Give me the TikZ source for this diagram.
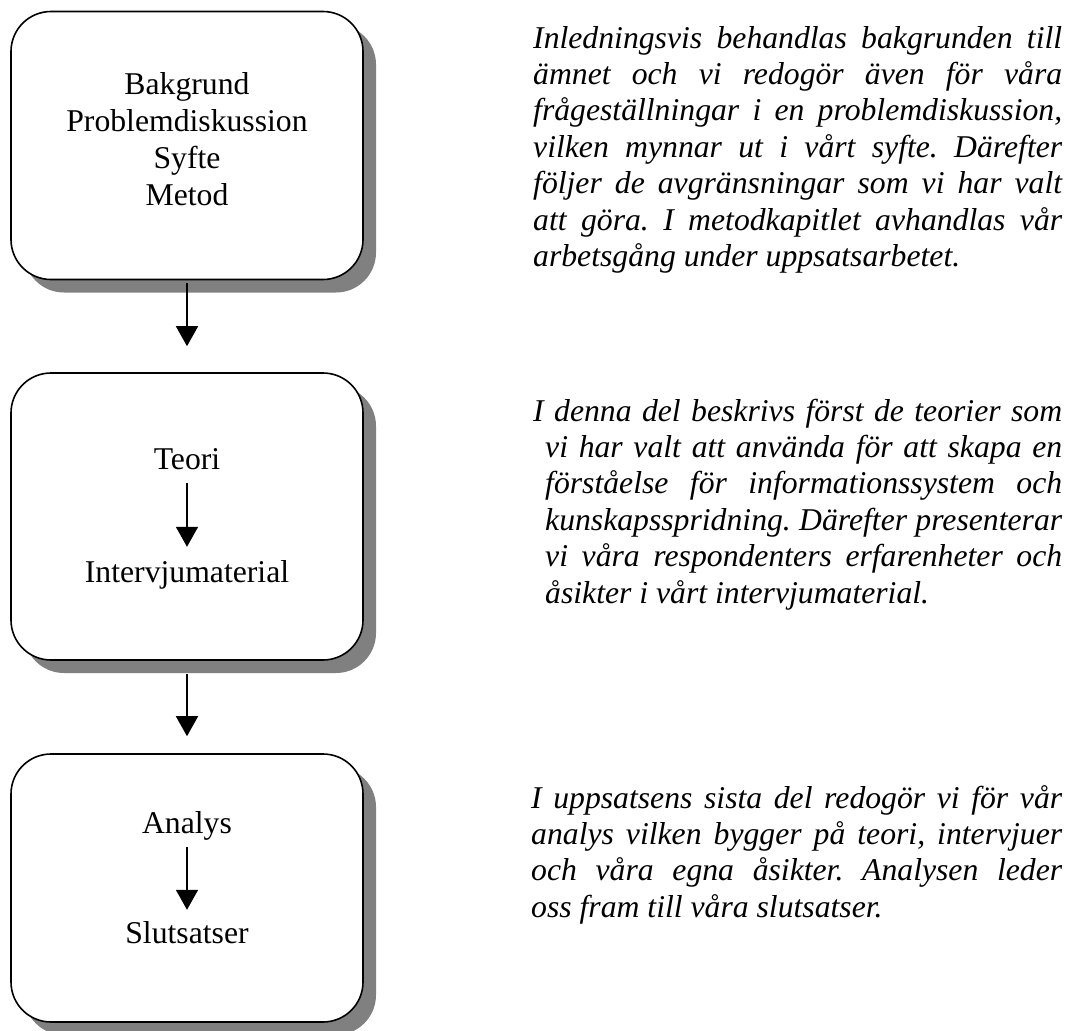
\documentclass[tikz,border=0pt]{standalone}
\usepackage{fontspec}
\setmainfont{Liberation Serif}
\usetikzlibrary{shadows,arrows.meta}
\newcommand{\jline}[2]{\makebox[#1pt][s]{#2}}
\frenchspacing
\begin{document}
\begin{tikzpicture}[x=1pt,y=-1pt,
  stage/.style={draw=black, line width=1.6pt, rounded corners=40pt, fill=white,
    minimum width=352pt, inner sep=0pt,
    drop shadow={shadow xshift=13pt, shadow yshift=-13pt, fill=black!50, opacity=1}},
  label/.style={inner sep=0pt, anchor=base, align=center,
    font=\fontsize{31.7}{36.7}\selectfont, text height=22pt, text depth=7pt},
  desc/.style={inner sep=0pt, anchor=base west, align=left,
    font=\fontsize{31.7}{36.4}\selectfont\itshape\frenchspacing},
  flow/.style={line width=1.6pt, -{Triangle[width=22pt,length=20pt]}}]
\useasboundingbox (0,0) rectangle (1072,1031);
% boxes
\node[stage, minimum height=268pt] (box1) at (187,145.5) {};
\node[stage, minimum height=287pt] (box2) at (187,516.5) {};
\node[stage, minimum height=268pt] (box3) at (187,888) {};
% box texts (base anchor = last line)
\node[label] (intro) at (187,205) {Bakgrund\\Problemdiskussion\\Syfte\\Metod};
\node[label] (teori) at (187,469) {Teori};
\node[label] (intervju) at (187,582) {Intervjumaterial};
\node[label] (analys) at (187,833) {Analys};
\node[label] (slut) at (187,943) {Slutsatser};
% connectors
\draw[flow, shorten <=3pt, shorten >=26pt] (box1.south) -- (box2.north);
\draw[flow, shorten <=13pt, shorten >=17pt] (box2.south) -- (box3.north);
\draw[flow, shorten <=7pt, shorten >=13pt] (teori.south) -- (intervju.north);
\draw[flow, shorten <=7pt, shorten >=11pt] (analys.south) -- (slut.north);
% descriptions (base anchor = last line)
\node[desc] (desc1) at (533,266.4) {%
\jline{529}{Inledningsvis behandlas bakgrunden till}\\
\jline{529}{ämnet och vi redogör även för våra}\\
\jline{529}{frågeställningar i en problemdiskussion,}\\
\jline{529}{vilken mynnar ut i vårt syfte. Därefter}\\
\jline{529}{följer de avgränsningar som vi har valt}\\
\jline{529}{att göra. I metodkapitlet avhandlas vår}\\
arbetsgång under uppsatsarbetet.};
\node[desc] (desc2) at (533,603) {%
\jline{529}{I denna del beskrivs först de teorier som}\\
\hspace*{12pt}\jline{517}{vi har valt att använda för att skapa en}\\
\hspace*{12pt}\jline{517}{förståelse för informationssystem och}\\
\hspace*{12pt}\jline{517}{kunskapsspridning. Därefter presenterar}\\
\hspace*{12pt}\jline{517}{vi våra respondenters erfarenheter och}\\
\hspace*{12pt}åsikter i vårt intervjumaterial.};
\node[desc] (desc3) at (531,917.2) {%
\jline{531}{I uppsatsens sista del redogör vi för vår}\\
\jline{531}{analys vilken bygger på teori, intervjuer}\\
\jline{531}{och våra egna åsikter. Analysen leder}\\
oss fram till våra slutsatser.};
\end{tikzpicture}
\end{document}
